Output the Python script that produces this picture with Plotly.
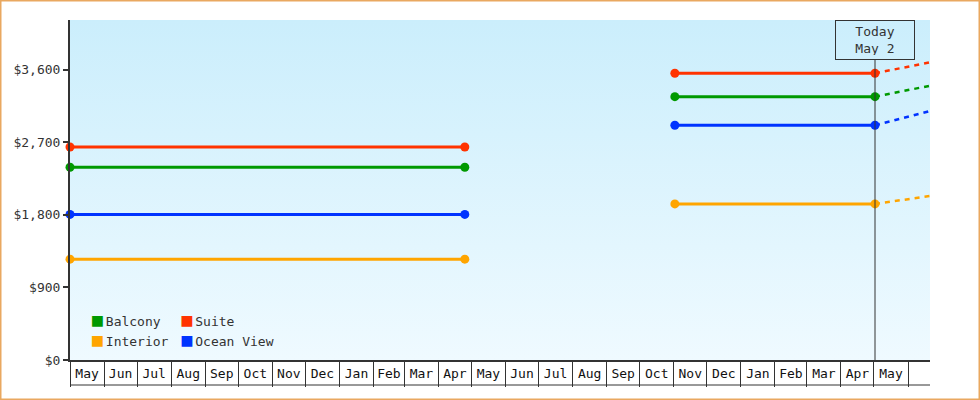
"""
Cabin price history by category, with today's marker and a short dashed
projection past the marker. Written as a static-looking plotly page.
"""
import pandas as pd
import plotly.graph_objects as go

# --- data -------------------------------------------------------------
categories = ["Balcony", "Suite", "Interior", "Ocean View"]
colors = {"Balcony": "#009900", "Suite": "#ff3300",
          "Interior": "#ffa500", "Ocean View": "#0033ff"}

first_dates = ["2022-05-01", "2023-04-25"]
second_dates = ["2023-11-02", "2024-05-02"]
proj_dates = ["2024-05-02", "2024-06-21"]

first_prices = {"Balcony": 2390, "Suite": 2640, "Interior": 1250, "Ocean View": 1805}
second_prices = {"Balcony": 3265, "Suite": 3555, "Interior": 1935, "Ocean View": 2910}
proj_end_prices = {"Balcony": 3400, "Suite": 3690, "Interior": 2033, "Ocean View": 3087}

today = "2024-05-02"
today_label = "Today<br>May 2"

y_ticks = [0, 900, 1800, 2700, 3600]
y_labels = [f"${v:,}" for v in y_ticks]
x_range = ["2022-05-01", "2024-06-21"]
y_range = [0, 4215]

# month cells: separators at month starts, labels centred in full months
month_starts = pd.date_range(x_range[0], x_range[1], freq="MS")
full_months = [s for s in month_starts if s + pd.offsets.MonthBegin(1) <= pd.Timestamp(x_range[1])]
month_mids = [s + (s + pd.offsets.MonthBegin(1) - s) / 2 for s in full_months]
month_labels = [s.strftime("%b") for s in full_months]

# --- layout constants ---------------------------------------------------
W, H = 980, 400
M = dict(l=70, r=50, t=20, b=40)
PW, PH = W - M["l"] - M["r"], H - M["t"] - M["b"]
FONT = "DejaVu Sans Mono"
INK = "#333333"
CELL = 25          # height of the month label strip
BOX_H = 40         # height of the "Today" box

fig = go.Figure()

# background gradient over the plot area
fig.add_trace(go.Scatter(
    x=[x_range[0], x_range[1], x_range[1], x_range[0]],
    y=[y_range[0], y_range[0], y_range[1], y_range[1]],
    fill="toself", mode="none", hoverinfo="skip", showlegend=False,
    fillgradient=dict(type="vertical",
                      colorscale=[[0, "#effaff"], [1, "#cbeefc"]]),
))

for cat in categories:
    c = colors[cat]
    fig.add_trace(go.Scatter(
        x=proj_dates, y=[second_prices[cat], proj_end_prices[cat]],
        mode="lines", line=dict(color=c, width=2.5, dash="5px,5px"),
        showlegend=False, hoverinfo="skip",
    ))
    for xs, val in ((first_dates, first_prices[cat]), (second_dates, second_prices[cat])):
        fig.add_trace(go.Scatter(
            x=xs, y=[val, val], mode="lines+markers",
            line=dict(color=c, width=3), marker=dict(color=c, size=9),
            cliponaxis=False, showlegend=False, name=cat,
        ))

# legend entries: two columns via two legends, square drawn in the text so
# it sits close to the label like in the original
legend_cols = [["Balcony", "Interior"], ["Suite", "Ocean View"]]
for i, col in enumerate(legend_cols):
    for cat in col:
        fig.add_trace(go.Scatter(
            x=[None], y=[None], mode="markers",
            name=(f"<span style='color:{colors[cat]};font-size:18px'>■</span>"
                  f"<span style='font-size:5px'> </span>{cat}"),
            marker=dict(color="rgba(0,0,0,0)", size=1),
            legend="legend" if i == 0 else "legend2",
        ))

legend_style = dict(font=dict(family=FONT, size=13, color=INK),
                    bgcolor="rgba(0,0,0,0)", yanchor="top",
                    tracegroupgap=0, itemwidth=30)

fig.add_shape(type="line", xref="x", yref="paper", x0=today, x1=today,
              y0=0, y1=1 - BOX_H / PH, line=dict(color=INK, width=1))
fig.add_annotation(x=today, xref="x", y=1, yref="paper", yanchor="top",
                   text=today_label, showarrow=False, align="center",
                   font=dict(family=FONT, size=13, color=INK),
                   bordercolor=INK, borderwidth=1, borderpad=4, width=70,
                   height=BOX_H - 10)
# bottom edge of the month strip
fig.add_shape(type="line", xref="paper", yref="paper", x0=0, x1=1,
              y0=-CELL / PH, y1=-CELL / PH, line=dict(color=INK, width=1))
# outer frame
fig.add_shape(type="rect", xref="paper", yref="paper",
              x0=-M["l"] / PW, x1=1 + M["r"] / PW,
              y0=-M["b"] / PH, y1=1 + M["t"] / PH,
              line=dict(color="#e9a860", width=3))

fig.update_xaxes(
    type="date", range=x_range, tickmode="array",
    tickvals=month_mids, ticktext=month_labels, ticks="",
    minor=dict(tickmode="array", tickvals=list(month_starts), ticks="outside",
               ticklen=CELL, tickwidth=1, tickcolor=INK, showgrid=False),
    showline=True, linecolor=INK, linewidth=2, showgrid=False,
    tickfont=dict(family=FONT, size=13, color="#111111"),
)
fig.update_yaxes(
    range=y_range, tickmode="array", tickvals=y_ticks, ticktext=y_labels,
    ticks="outside", ticklen=5, tickwidth=2, tickcolor=INK,
    showline=True, linecolor=INK, linewidth=2, showgrid=False, zeroline=False,
    tickfont=dict(family=FONT, size=13, color=INK),
)
fig.update_layout(
    width=W, height=H, margin=M,
    paper_bgcolor="white", plot_bgcolor="white",
    legend=dict(x=-0.021, y=0.16, **legend_style),
    legend2=dict(x=0.083, y=0.16, **legend_style),
    font=dict(family=FONT, color=INK),
)

fig.write_html("out.html", config={"displayModeBar": False},
               post_script="document.body.style.margin='0';")
